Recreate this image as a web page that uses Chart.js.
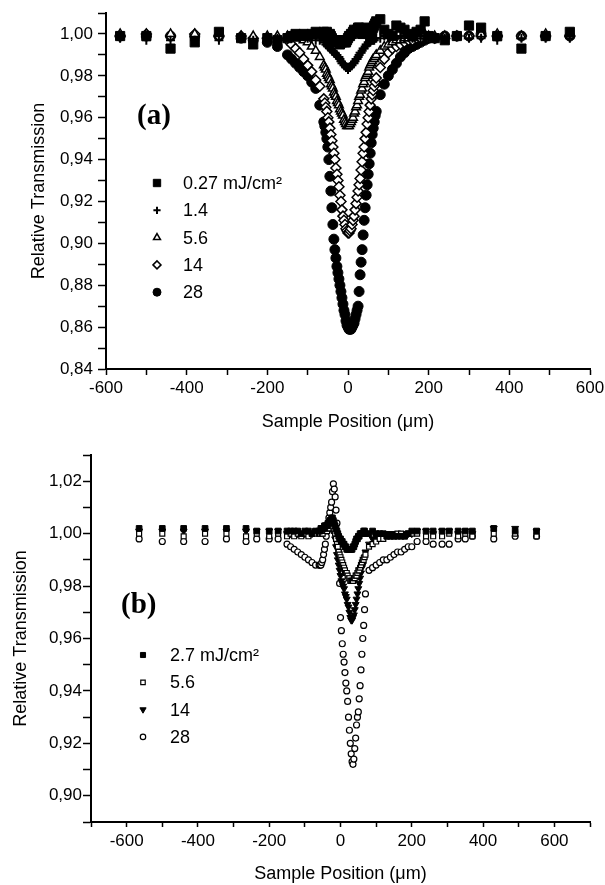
<!DOCTYPE html>
<html>
<head>
<meta charset="utf-8">
<script src="https://cdn.jsdelivr.net/npm/chart.js@4/dist/chart.umd.min.js"></script>
<style>
  html, body { margin: 0; padding: 0; background: #fff; }
  body { width: 605px; height: 885px; position: relative; overflow: hidden; }
  canvas { position: absolute; left: 0; }
  #chartA { top: 0; }
  #chartB { top: 440px; }
</style>
</head>
<body>
<canvas id="chartA" width="605" height="440"></canvas>
<canvas id="chartB" width="605" height="445"></canvas>
<script>
// ---- panel (a) ----
const posA = [-565, -500, -440, -380, -320, -265, -235, -200, -175,
  -150, -140, -130, -120, -110, -100, -90, -80, -70,
  -60, -57.5, -55, -52.5, -50, -47.5, -45, -42.5, -40, -37.5,
  -35, -32.5, -30, -27.5, -25, -22.5, -20, -17.5, -15, -12.5,
  -10, -7.5, -5, -2.5, 0, 2.5, 5, 7.5, 10, 12.5,
  15, 17.5, 20, 22.5, 25, 27.5, 30, 32.5, 35, 37.5,
  40, 42.5, 45, 47.5, 50, 52.5, 55, 57.5, 60, 62.5,
  65, 67.5, 70,
  80, 90, 100, 110, 120, 130, 140, 150, 160, 170, 180, 190, 200,
  215, 240, 270, 300, 330, 370, 430, 490, 550];

const a027 = [0.999, 0.999, 0.993, 0.996, 1.001, 0.998, 0.995, 0.998, 0.997,
  0.998, 0.999, 1.000, 0.999, 1.000, 0.999, 1.000, 1.001, 1.000,
  1.001, 0.999, 1.000, 1.001, 0.999, 0.998, 1.000, 0.999, 0.998, 0.997,
  0.997, 0.996, 0.996, 0.997, 0.997, 0.996, 0.995, 0.996, 0.996, 0.997,
  0.997, 0.996, 0.996, 0.997, 0.998, 0.999, 0.999, 1.000, 1.000, 1.001,
  1.002, 1.001, 1.001, 1.002, 1.003, 1.003, 1.002, 1.001, 1.000, 1.000,
  1.001, 1.002, 1.003, 1.002, 1.001, 1.000, 0.999, 1.001, 1.002, 1.003,
  1.004, 1.005, 1.006,
  1.007, 1.002, 1.000, 0.999, 1.004, 1.003, 1.002, 1.000, 0.999, 1.001, 1.002, 1.006, 0.999,
  0.998, 0.997, 0.999, 1.004, 1.003, 0.999, 0.993, 0.999, 1.001];
const a14 = [0.998, 0.997, 0.997, 0.997, 0.997, 0.998, 0.997, 0.998, 0.998,
  0.999, 0.998, 0.999, 0.998, 0.999, 0.998, 0.998, 0.997, 0.997,
  0.996, 0.996, 0.995, 0.995, 0.994, 0.994, 0.993, 0.993, 0.992, 0.992,
  0.991, 0.991, 0.990, 0.990, 0.989, 0.989, 0.988, 0.987, 0.986, 0.986,
  0.985, 0.985, 0.984, 0.984, 0.983, 0.984, 0.984, 0.985, 0.985, 0.986,
  0.986, 0.987, 0.988, 0.988, 0.989, 0.990, 0.991, 0.991, 0.992, 0.993,
  0.993, 0.994, 0.995, 0.995, 0.996, 0.996, 0.996, 0.997, 0.997, 0.997,
  0.997, 0.998, 0.998,
  0.998, 0.999, 0.998, 0.999, 0.999, 0.998, 0.999, 0.999, 0.998, 0.999, 0.998, 0.999, 0.998,
  0.998, 0.998, 0.999, 0.998, 0.998, 0.997, 0.998, 0.998, 0.998];
const a56 = [1.000, 1.000, 1.000, 1.000, 1.000, 0.999, 0.999, 0.999, 0.999,
  0.999, 0.999, 0.998, 0.998, 0.997, 0.996, 0.994, 0.992, 0.989,
  0.985, 0.984, 0.983, 0.981, 0.980, 0.979, 0.978, 0.976, 0.975, 0.974,
  0.972, 0.971, 0.970, 0.968, 0.967, 0.966, 0.964, 0.963, 0.962, 0.961,
  0.959, 0.958, 0.957, 0.956, 0.956, 0.956, 0.957, 0.958, 0.959, 0.960,
  0.962, 0.963, 0.965, 0.966, 0.968, 0.970, 0.971, 0.973, 0.974, 0.976,
  0.977, 0.979, 0.980, 0.981, 0.982, 0.984, 0.985, 0.986, 0.987, 0.988,
  0.988, 0.989, 0.990,
  0.992, 0.994, 0.995, 0.996, 0.997, 0.997, 0.998, 0.998, 0.999, 0.999, 0.999, 1.000, 0.999,
  0.999, 0.999, 0.999, 0.999, 1.000, 1.000, 0.999, 1.000, 1.000];
const a140 = [0.999, 1.000, 0.999, 1.000, 0.999, 0.999, 0.998, 0.998, 0.998,
  0.997, 0.995, 0.993, 0.991, 0.988, 0.985, 0.982, 0.978, 0.975,
  0.969, 0.967, 0.965, 0.963, 0.960, 0.958, 0.955, 0.952, 0.949, 0.946,
  0.943, 0.940, 0.936, 0.933, 0.930, 0.927, 0.923, 0.920, 0.916, 0.913,
  0.911, 0.909, 0.907, 0.906, 0.905, 0.905, 0.906, 0.907, 0.909, 0.911,
  0.913, 0.916, 0.919, 0.922, 0.925, 0.928, 0.931, 0.935, 0.939, 0.943,
  0.946, 0.950, 0.953, 0.957, 0.960, 0.963, 0.966, 0.969, 0.971, 0.973,
  0.975, 0.977, 0.979,
  0.984, 0.988, 0.991, 0.993, 0.994, 0.995, 0.996, 0.997, 0.997, 0.998, 0.998, 0.999, 0.998,
  0.998, 0.998, 0.999, 0.999, 0.999, 0.999, 0.999, 0.999, 0.999];
const a280 = [0.999, 0.999, 0.999, 0.999, 0.999, 0.998, 0.997, 0.996, 0.994,
  0.990, 0.988, 0.986, 0.984, 0.982, 0.980, 0.977, 0.974, 0.966,
  0.958, 0.956, 0.953, 0.950, 0.946, 0.940, 0.932, 0.925, 0.917, 0.909,
  0.902, 0.897, 0.893, 0.889, 0.886, 0.883, 0.880, 0.877, 0.874, 0.871,
  0.868, 0.866, 0.863, 0.861, 0.860, 0.859, 0.859, 0.859, 0.860, 0.861,
  0.862, 0.864, 0.866, 0.868, 0.870, 0.877, 0.885, 0.891, 0.897, 0.904,
  0.911, 0.917, 0.923, 0.928, 0.933, 0.938, 0.943, 0.948, 0.952, 0.955,
  0.958, 0.961, 0.963,
  0.971, 0.976, 0.980, 0.983, 0.986, 0.989, 0.991, 0.993, 0.994, 0.995, 0.996, 0.997, 0.998,
  0.998, 0.999, 0.999, 0.999, 1.000, 0.999, 0.999, 0.999, 0.999];
const labelsA = ['0.27 mJ/cm\u00B2', '1.4', '5.6', '14', '28'];

// ---- panel (b) ----
const posB = [-565, -500, -440, -380, -320, -265, -235, -200, -175,
  -150, -140, -130, -120, -110, -100, -90, -80, -70,
  -60, -57.5, -55, -52.5, -50, -47.5, -45, -42.5, -40, -37.5,
  -35, -32.5, -30, -27.5, -25, -22.5, -20, -17.5, -15, -12.5,
  -10, -7.5, -5, -2.5, 0, 2.5, 5, 7.5, 10, 12.5,
  15, 17.5, 20, 22.5, 25, 27.5, 30, 32.5, 35, 37.5,
  40, 42.5, 45, 47.5, 50, 52.5, 55, 57.5, 60, 62.5,
  65, 67.5, 70,
  80, 90, 100, 110, 120, 130, 140, 150, 160, 170, 180, 190, 200,
  215, 240, 260, 285, 305, 330, 350, 370, 430, 490, 550];

const b27 = [1.002, 1.002, 1.002, 1.002, 1.002, 1.002, 1.001, 1.001, 1.001,
  1.001, 1.001, 1.001, 1.001, 1.000, 1.001, 1.001, 1.000, 1.001,
  1.001, 1.001, 1.002, 1.002, 1.002, 1.002, 1.003, 1.003, 1.003, 1.003,
  1.004, 1.004, 1.005, 1.005, 1.006, 1.006, 1.005, 1.004, 1.003, 1.002,
  1.001, 1.000, 0.999, 0.998, 0.998, 0.997, 0.997, 0.996, 0.996, 0.995,
  0.995, 0.994, 0.994, 0.994, 0.994, 0.994, 0.994, 0.994, 0.995, 0.995,
  0.996, 0.997, 0.998, 0.998, 0.999, 0.999, 1.000, 1.000, 1.000, 1.000,
  1.001, 1.001, 1.000,
  1.000, 1.001, 1.000, 1.000, 1.000, 0.999, 0.999, 0.999, 0.999, 0.999, 0.999, 1.000, 1.001,
  1.001, 1.001, 1.001, 1.001, 1.001, 1.001, 1.001, 1.001, 1.002, 1.001, 1.001];
const b56 = [1.000, 1.000, 0.999, 1.000, 1.000, 0.999, 1.000, 0.999, 1.000,
  0.999, 1.000, 0.999, 1.000, 0.999, 1.000, 0.999, 1.000, 1.000,
  1.000, 1.000, 1.001, 1.000, 1.000, 1.001, 1.001, 1.001, 1.001, 1.001,
  1.002, 1.002, 1.002, 1.003, 1.003, 1.003, 1.002, 1.001, 1.000, 0.998,
  0.996, 0.995, 0.993, 0.992, 0.991, 0.990, 0.989, 0.988, 0.987, 0.986,
  0.985, 0.985, 0.984, 0.983, 0.983, 0.982, 0.982, 0.982, 0.982, 0.983,
  0.983, 0.984, 0.984, 0.985, 0.986, 0.986, 0.987, 0.988, 0.989, 0.990,
  0.990, 0.991, 0.992,
  0.995, 0.996, 0.997, 0.998, 0.998, 0.999, 0.999, 0.999, 1.000, 1.000, 0.999, 1.000, 1.000,
  1.000, 0.999, 0.999, 0.999, 1.000, 0.999, 1.000, 0.999, 1.000, 1.000, 0.999];
const b140 = [1.001, 1.001, 1.001, 1.001, 1.001, 1.001, 1.001, 1.001, 1.001,
  1.000, 1.000, 1.001, 1.000, 1.000, 1.000, 1.000, 1.000, 1.001,
  1.001, 1.001, 1.001, 1.002, 1.002, 1.002, 1.002, 1.003, 1.003, 1.003,
  1.003, 1.004, 1.004, 1.004, 1.004, 1.003, 1.002, 1.000, 0.998, 0.995,
  0.992, 0.990, 0.988, 0.986, 0.984, 0.982, 0.981, 0.980, 0.979, 0.977,
  0.976, 0.975, 0.973, 0.972, 0.970, 0.968, 0.967, 0.967, 0.968, 0.969,
  0.971, 0.973, 0.975, 0.977, 0.979, 0.981, 0.983, 0.985, 0.987, 0.988,
  0.990, 0.991, 0.993,
  0.996, 0.998, 0.999, 0.999, 1.000, 1.000, 1.000, 1.000, 1.000, 1.000, 1.000, 1.000, 1.000,
  1.001, 1.001, 1.000, 1.001, 1.001, 1.000, 1.001, 1.000, 1.002, 1.002, 1.001];
const b280 = [0.998, 0.997, 0.997, 0.997, 0.998, 0.997, 0.998, 0.998, 0.998,
  0.996, 0.995, 0.994, 0.993, 0.992, 0.991, 0.990, 0.989, 0.988,
  0.988, 0.988, 0.988, 0.989, 0.990, 0.992, 0.994, 0.996, 0.999, 1.001,
  1.004, 1.006, 1.008, 1.010, 1.012, 1.016, 1.019, 1.017, 1.014, 1.009,
  1.004, 0.999, 0.993, 0.981, 0.968, 0.963, 0.958, 0.954, 0.951, 0.947,
  0.943, 0.940, 0.936, 0.930, 0.925, 0.920, 0.916, 0.913, 0.912, 0.914,
  0.918, 0.922, 0.927, 0.930, 0.932, 0.937, 0.942, 0.948, 0.954, 0.960,
  0.965, 0.971, 0.977,
  0.986, 0.987, 0.988, 0.989, 0.990, 0.990, 0.991, 0.992, 0.993, 0.993, 0.994, 0.995, 0.995,
  0.997, 0.997, 0.996, 0.996, 0.996, 0.998, 0.998, 0.999, 0.998, 0.999, 0.999];
const labelsB = ['2.7 mJ/cm\u00B2', '5.6', '14', '28'];

const FONT = '"Liberation Sans", Arial, sans-serif';
Chart.defaults.color = '#000';
Chart.defaults.font.family = FONT;

function pts(xs, ys) {
  return xs.map((x, i) => ({ x: x, y: ys[i] }));
}

// legend + panel letter drawn inside the plot area
const inlineLegend = {
  id: 'inlineLegend',
  afterDraw(chart, args, opts) {
    const ctx = chart.ctx;
    ctx.save();
    chart.data.datasets.forEach((ds, i) => {
      const y = opts.y0 + i * opts.dy;
      ctx.fillStyle = ds.pointBackgroundColor;
      ctx.strokeStyle = '#000';
      ctx.lineWidth = ds.pointBorderWidth;
      Chart.helpers.drawPoint(ctx, {
        pointStyle: ds.pointStyle,
        rotation: ds.pointRotation || 0,
        radius: ds.pointRadius * opts.scale,
        borderWidth: ds.pointBorderWidth
      }, opts.markX, y);
      ctx.fillStyle = '#000';
      ctx.font = opts.fontSize + 'px ' + FONT;
      ctx.textAlign = 'left';
      ctx.textBaseline = 'middle';
      ctx.fillText(ds.label, opts.textX, y + 1);
    });
    ctx.font = 'bold ' + opts.tagSize + 'px "Liberation Serif", "Times New Roman", serif';
    ctx.textBaseline = 'middle';
    ctx.fillText(opts.tag, opts.tagX, opts.tagY);
    ctx.restore();
  }
};

function commaLabel(v) {
  return Math.round(v * 100) % 2 === 0 ? v.toFixed(2).replace('.', ',') : '';
}

function makeChart(id, datasets, cfg) {
  return new Chart(document.getElementById(id), {
    type: 'scatter',
    data: { datasets: datasets },
    plugins: [inlineLegend],
    options: {
      responsive: false,
      animation: false,
      devicePixelRatio: 1,
      layout: { padding: cfg.padding },
      plugins: {
        legend: { display: false },
        tooltip: { enabled: false },
        inlineLegend: cfg.legend
      },
      scales: {
        x: {
          type: 'linear',
          min: cfg.xMin, max: cfg.xMax,
          border: { display: true, color: '#000', width: 2 },
          grid: { drawOnChartArea: false, drawTicks: true, tickLength: cfg.xTick, tickColor: '#000', tickWidth: 1.5 },
          ticks: {
            stepSize: 100, autoSkip: false, maxRotation: 0, padding: cfg.xPad,
            font: { size: 17, family: FONT },
            callback: v => (v % 200 === 0 && Math.abs(v) <= 600) ? String(v) : ''
          },
          title: { display: true, text: 'Sample Position (\u03BCm)', font: { size: 18, family: FONT }, padding: { top: 0, bottom: cfg.xTitlePad } },
          afterFit: s => { s.height = cfg.xHeight; s.paddingLeft = 0; s.paddingRight = 0; }
        },
        y: {
          type: 'linear',
          min: cfg.yMin, max: cfg.yMax,
          border: { display: true, color: '#000', width: 2 },
          grid: { drawOnChartArea: false, drawTicks: true, tickLength: cfg.yTick, tickColor: '#000', tickWidth: 1.5 },
          ticks: {
            stepSize: 0.01, autoSkip: false, padding: cfg.yPad,
            font: { size: 17, family: FONT },
            callback: commaLabel
          },
          title: { display: true, text: 'Relative Transmission', font: { size: 18, family: FONT }, padding: { top: cfg.yTitlePad, bottom: 0 } },
          afterFit: s => { s.width = cfg.yWidth; s.paddingTop = 0; s.paddingBottom = 0; }
        }
      }
    }
  });
}

function series(label, data, style, r, fill, bw, rot) {
  return {
    label: label, data: data, showLine: false,
    pointStyle: style, pointRadius: r, pointHoverRadius: r,
    pointRotation: rot || 0,
    pointBackgroundColor: fill, pointBorderColor: '#000', pointBorderWidth: bw
  };
}

makeChart('chartA', [
  series(labelsA[0], pts(posA, a027), 'rect', 6.5, '#000', 1),
  series(labelsA[1], pts(posA, a14), 'cross', 4.5, '#000', 2),
  series(labelsA[2], pts(posA, a56), 'triangle', 5, '#fff', 1.5),
  series(labelsA[3], pts(posA, a140), 'rectRot', 5, '#fff', 1.5),
  series(labelsA[4], pts(posA, a280), 'circle', 5, '#000', 1)
], {
  padding: { left: 0, right: 15, top: 13, bottom: 0 },
  xMin: -600, xMax: 600, yMin: 0.84, yMax: 1.01,
  xTick: 6, xPad: 3, yTick: 8, yPad: 5,
  xHeight: 71, yWidth: 106, xTitlePad: 7, yTitlePad: 28,
  legend: { markX: 157, textX: 183, y0: 183, dy: 27.3, scale: 0.8, fontSize: 18,
            tag: '(a)', tagX: 137, tagY: 117, tagSize: 29 }
});

makeChart('chartB', [
  series(labelsB[0], pts(posB, b27), 'rect', 4, '#000', 1),
  series(labelsB[1], pts(posB, b56), 'rect', 3.5, '#fff', 1.2),
  series(labelsB[2], pts(posB, b140), 'triangle', 4, '#000', 1, 180),
  series(labelsB[3], pts(posB, b280), 'circle', 3, '#fff', 1.2)
], {
  padding: { left: 0, right: 15, top: 15, bottom: 0 },
  xMin: -700, xMax: 700, yMin: 0.89, yMax: 1.03,
  xTick: 5, xPad: 4, yTick: 8, yPad: 1,
  xHeight: 63, yWidth: 91, xTitlePad: 0, yTitlePad: 10,
  legend: { markX: 143, textX: 170, y0: 215, dy: 27.3, scale: 0.9, fontSize: 18,
            tag: '(b)', tagX: 121, tagY: 166, tagSize: 29 }
});
</script>
</body>
</html>
